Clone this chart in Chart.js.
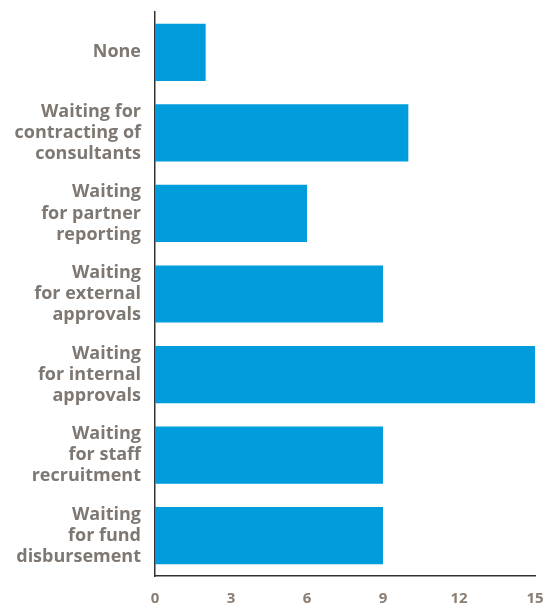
<!DOCTYPE html>
<html>
<head>
<meta charset="utf-8">
<script src="https://cdn.jsdelivr.net/npm/chart.js@4"></script>
<style>
  html, body { margin: 0; padding: 0; background: #fff; }
  #wrap { width: 545px; height: 604px; }
</style>
</head>
<body>
<div id="wrap"><canvas id="barChart" width="545" height="604"></canvas></div>
<script>
// Datos
const categories = [
    'None',
    ['Waiting for', 'contracting of', 'consultants'],
    ['Waiting', 'for partner', 'reporting'],
    ['Waiting', 'for external', 'approvals'],
    ['Waiting', 'for internal', 'approvals'],
    ['Waiting', 'for staff', 'recruitment'],
    ['Waiting', 'for fund', 'disbursement']
];
const counts = [2, 10, 6, 9, 15, 9, 9];
const xTicks = [0, 3, 6, 9, 12, 15];

const BAR_BLUE = '#009cdc';
const LABEL_GRAY = '#7f7872';
const AXIS_DARK = '#333333';

const ctx = document.getElementById('barChart').getContext('2d');

new Chart(ctx, {
    type: 'bar',
    data: {
        labels: categories,
        datasets: [{
            data: counts,
            backgroundColor: BAR_BLUE,
            borderWidth: 0,
            categoryPercentage: 1,
            barPercentage: 0.71
        }]
    },
    options: {
        indexAxis: 'y',
        responsive: false,
        animation: false,
        layout: { padding: { top: 12, right: 10, left: 0, bottom: 0 } },
        plugins: { legend: { display: false }, tooltip: { enabled: false } },
        scales: {
            x: {
                min: 0,
                max: 15,
                afterBuildTicks: (scale) => { scale.ticks = xTicks.map(v => ({ value: v })); },
                afterFit: (scale) => {
                    scale.height = 28;
                    scale.paddingLeft = 0;
                    scale.paddingRight = 0;
                },
                grid: { display: false, drawTicks: false },
                border: { display: true, color: AXIS_DARK, width: 1.5 },
                ticks: {
                    padding: 14,
                    color: '#8a7d72',
                    font: { family: 'Open Sans', weight: 'bold', size: 15 }
                }
            },
            y: {
                afterFit: (scale) => {
                    scale.width = 155;
                    scale.paddingTop = 0;
                    scale.paddingBottom = 0;
                },
                grid: { display: false, drawTicks: false },
                border: { display: true, color: AXIS_DARK, width: 1.5 },
                ticks: {
                    padding: 14,
                    color: LABEL_GRAY,
                    font: { family: 'Open Sans', weight: 'bold', size: 18, lineHeight: 1.17 }
                }
            }
        }
    }
});
</script>
</body>
</html>
